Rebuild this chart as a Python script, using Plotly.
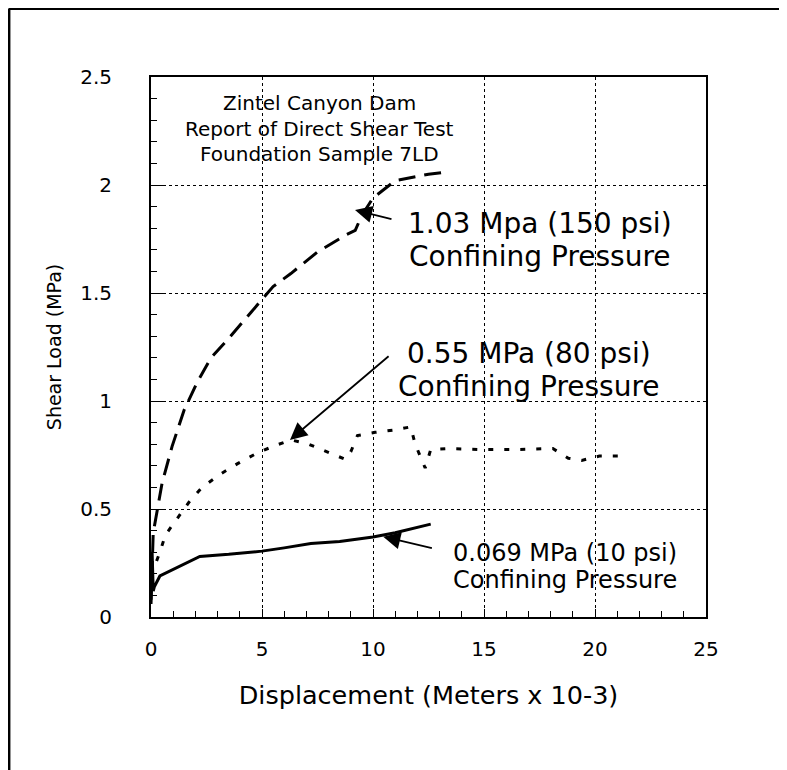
import plotly.graph_objects as go

# 0.069 MPa (10 psi) confining pressure - solid
low_x = [0, 0.05, 0.1, 0.15, 0.4, 1.0, 2.2, 3.5, 5.0, 6.0, 7.2, 8.5, 10.0, 11.0, 12.6]
low_y = [0.08, 0.30, 0.12, 0.14, 0.19, 0.22, 0.28, 0.29, 0.305, 0.32, 0.34, 0.35, 0.37, 0.39, 0.43]

# 0.55 MPa (80 psi) confining pressure - dotted
mid_x = [0, 0.4, 0.65, 1.2, 1.7, 2.3, 3.1, 3.9, 4.8, 5.5, 6.3, 7.1, 7.9, 8.75, 9.0, 9.3,
         10.1, 10.9, 11.7, 11.9, 12.35, 12.6, 13.4, 15.0, 16.5, 18.1, 18.8, 19.4, 20.2, 21.3]
mid_y = [0.19, 0.30, 0.38, 0.46, 0.53, 0.60, 0.66, 0.71, 0.76, 0.79, 0.82, 0.80, 0.765, 0.73, 0.765, 0.84,
         0.855, 0.865, 0.88, 0.80, 0.69, 0.775, 0.78, 0.775, 0.775, 0.78, 0.735, 0.725, 0.745, 0.745]

# 1.03 MPa (150 psi) confining pressure - dashed
high_x = [0, 0.1, 0.5, 0.95, 1.5, 2.1, 2.7, 3.5, 4.5, 5.5, 6.3, 7.5, 8.8, 9.2, 9.5, 10.0, 11.0, 12.5, 13.3]
high_y = [0.06, 0.39, 0.62, 0.79, 0.96, 1.09, 1.2, 1.29, 1.41, 1.53, 1.59, 1.69, 1.77, 1.79, 1.86, 1.94, 2.02, 2.05, 2.06]

x_ticks = [0, 5, 10, 15, 20, 25]
y_ticks = [0, 0.5, 1, 1.5, 2, 2.5]
y_tick_text = ["0", "0.5", "1", "1.5", "2", "2.5"]

FONT = "DejaVu Sans, Verdana, sans-serif"

fig = go.Figure()
fig.add_trace(go.Scatter(x=high_x, y=high_y, mode="lines",
                         line=dict(color="black", width=3, dash="17px,9px")))
fig.add_trace(go.Scatter(x=mid_x, y=mid_y, mode="lines",
                         line=dict(color="black", width=3, dash="5px,11px")))
fig.add_trace(go.Scatter(x=low_x, y=low_y, mode="lines",
                         line=dict(color="black", width=3)))

# text lines (x, y, text, font size), one annotation per line to keep spacing tight
texts = [
    (7.61, 2.380, "Zintel Canyon Dam", 20),
    (7.61, 2.258, "Report of Direct Shear Test", 20),
    (7.61, 2.142, "Foundation Sample 7LD", 20),
    (17.52, 1.822, "1.03 Mpa (150 psi)", 28),
    (17.52, 1.668, "Confining Pressure", 28),
    (17.03, 1.220, "0.55 MPa (80 psi)", 28),
    (17.03, 1.066, "Confining Pressure", 28),
    (18.65, 0.296, "0.069 MPa (10 psi)", 24),
    (18.65, 0.170, "Confining Pressure", 24),
]
for tx, ty, t, size in texts:
    fig.add_annotation(x=tx, y=ty, text=t, showarrow=False,
                       font=dict(family=FONT, size=size, color="black"),
                       align="center")

# arrows: (tip x, tip y, tail x, tail y)
arrows = [
    (9.19, 1.884, 10.9, 1.84),
    (6.26, 0.82, 10.77, 1.213),
    (10.46, 0.372, 12.72, 0.317),
]
for x0, y0, x1, y1 in arrows:
    fig.add_annotation(x=x0, y=y0, ax=x1, ay=y1, axref="x", ayref="y",
                       text="", showarrow=True, arrowhead=2, arrowsize=1.9,
                       arrowwidth=1.8, arrowcolor="black")

# outer frame (left and top edges)
fig.add_shape(type="line", xref="paper", yref="paper",
              x0=-0.256, x1=-0.256, y0=-0.4, y1=1.127,
              line=dict(color="black", width=3))
fig.add_shape(type="line", xref="paper", yref="paper",
              x0=-0.256, x1=1.3, y0=1.127, y1=1.127,
              line=dict(color="black", width=3))

fig.update_layout(
    width=779, height=762,
    margin=dict(l=143, r=81, t=69, b=153),
    paper_bgcolor="white", plot_bgcolor="white",
    showlegend=False,
    font=dict(family=FONT, size=20, color="black"),
)
fig.update_xaxes(
    range=[0, 25], tickvals=x_ticks, ticks="inside", ticklen=8, tickwidth=1,
    tickcolor="black",
    minor=dict(dtick=1, ticks="inside", ticklen=6, tickcolor="black", showgrid=False),
    showgrid=True, gridcolor="black", griddash="dot", gridwidth=1,
    showline=True, linecolor="black", linewidth=2, mirror=True,
    zeroline=False, ticklabelstandoff=13,
    title=dict(text="Displacement (Meters x 10-3)", standoff=26,
               font=dict(family=FONT, size=25.5)),
    tickfont=dict(family=FONT, size=20),
)
fig.update_yaxes(
    range=[0, 2.5], tickvals=y_ticks, ticktext=y_tick_text, ticks="inside",
    ticklen=12, tickwidth=1, tickcolor="black",
    minor=dict(dtick=0.1, ticks="inside", ticklen=6, tickcolor="black", showgrid=False),
    showgrid=True, gridcolor="black", griddash="dot", gridwidth=1,
    showline=True, linecolor="black", linewidth=2, mirror=True,
    zeroline=False, ticklabelstandoff=33,
    title=dict(text="Shear Load (MPa)", standoff=14,
               font=dict(family=FONT, size=19)),
    tickfont=dict(family=FONT, size=20),
)

fig.write_html("out.html")
